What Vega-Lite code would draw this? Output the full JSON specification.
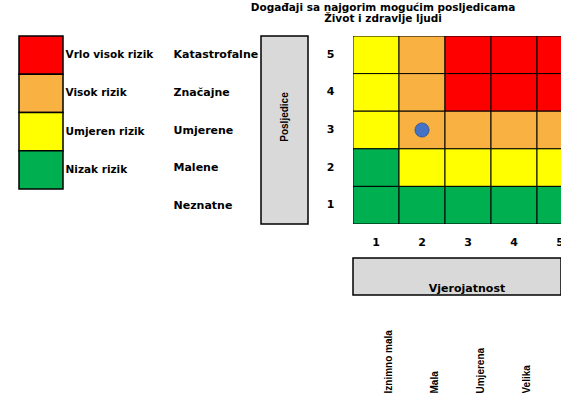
{
  "$schema": "https://vega.github.io/schema/vega-lite/v6.json",
  "padding": {"left": 18, "top": 2, "right": 0, "bottom": 0},
  "background": "white",
  "title": {
    "text": ["Događaji sa najgorim mogućim posljedicama", "Život i zdravlje ljudi"],
    "anchor": "start", "align": "center", "dx": 364, "frame": "group",
    "font": "DejaVu Sans", "fontSize": 10.5, "fontWeight": "bold", "lineHeight": 11, "color": "black", "offset": 11
  },
  "datasets": {
    "legenda": [
      {"rizik": "Vrlo visok rizik"}, {"rizik": "Visok rizik"}, {"rizik": "Umjeren rizik"}, {"rizik": "Nizak rizik"}
    ],
    "okvir_p": [{"naziv": "Posljedice"}],
    "okvir_v": [{"naziv": "Vjerojatnost"}],
    "posljedice": [
      {"naziv": "Katastrofalne"}, {"naziv": "Značajne"}, {"naziv": "Umjerene"}, {"naziv": "Malene"}, {"naziv": "Neznatne"}
    ],
    "vjerojatnost": [
      {"naziv": "Iznimno mala"}, {"naziv": "Mala"}, {"naziv": "Umjerena"}, {"naziv": "Velika"}
    ],
    "oznaka": [{"v": 2, "p": 3}],
    "matrica": [
      {"v": 1, "p": 5, "rizik": "Umjeren rizik"}, {"v": 2, "p": 5, "rizik": "Visok rizik"}, {"v": 3, "p": 5, "rizik": "Vrlo visok rizik"}, {"v": 4, "p": 5, "rizik": "Vrlo visok rizik"}, {"v": 5, "p": 5, "rizik": "Vrlo visok rizik"},
      {"v": 1, "p": 4, "rizik": "Umjeren rizik"}, {"v": 2, "p": 4, "rizik": "Visok rizik"}, {"v": 3, "p": 4, "rizik": "Vrlo visok rizik"}, {"v": 4, "p": 4, "rizik": "Vrlo visok rizik"}, {"v": 5, "p": 4, "rizik": "Vrlo visok rizik"},
      {"v": 1, "p": 3, "rizik": "Umjeren rizik"}, {"v": 2, "p": 3, "rizik": "Visok rizik"}, {"v": 3, "p": 3, "rizik": "Visok rizik"}, {"v": 4, "p": 3, "rizik": "Visok rizik"}, {"v": 5, "p": 3, "rizik": "Visok rizik"},
      {"v": 1, "p": 2, "rizik": "Nizak rizik"}, {"v": 2, "p": 2, "rizik": "Umjeren rizik"}, {"v": 3, "p": 2, "rizik": "Umjeren rizik"}, {"v": 4, "p": 2, "rizik": "Umjeren rizik"}, {"v": 5, "p": 2, "rizik": "Umjeren rizik"},
      {"v": 1, "p": 1, "rizik": "Nizak rizik"}, {"v": 2, "p": 1, "rizik": "Nizak rizik"}, {"v": 3, "p": 1, "rizik": "Nizak rizik"}, {"v": 4, "p": 1, "rizik": "Nizak rizik"}, {"v": 5, "p": 1, "rizik": "Nizak rizik"}
    ]
  },
  "config": {
    "view": {"stroke": null},
    "axis": {"ticks": false, "domain": false, "grid": false, "labelColor": "black", "labelFont": "DejaVu Sans", "labelFontWeight": "bold", "labelFontSize": 11, "title": null}
  },
  "spacing": 17,
  "hconcat": [
    {
      "width": 44, "height": 153,
      "data": {"name": "legenda"},
      "mark": {"type": "rect", "stroke": "black", "strokeWidth": 1.5},
      "encoding": {
        "y": {"field": "rizik", "type": "nominal", "sort": ["Vrlo visok rizik", "Visok rizik", "Umjeren rizik", "Nizak rizik"],
              "scale": {"paddingInner": 0, "paddingOuter": 0},
              "axis": {"orient": "right", "labelPadding": 2, "labelAlign": "left", "labelFontSize": 10.5, "minExtent": 93}},
        "x": {"value": 0}, "x2": {"value": "width"},
        "color": {"field": "rizik", "type": "nominal",
                  "scale": {"domain": ["Vrlo visok rizik", "Visok rizik", "Umjeren rizik", "Nizak rizik"], "range": ["#FF0000", "#F9B142", "#FFFF00", "#00B050"]},
                  "legend": null}
      }
    },
    {
      "width": 47, "height": 188,
      "layer": [
        {
          "data": {"name": "okvir_p"},
          "mark": {"type": "rect", "fill": "#D9D9D9", "stroke": "black", "strokeWidth": 1.5},
          "encoding": {"x": {"value": 0}, "x2": {"value": "width"}, "y": {"value": 0}, "y2": {"value": "height"}}
        },
        {
          "data": {"name": "okvir_p"},
          "mark": {"type": "text", "angle": 270, "font": "Liberation Sans", "fontSize": 10, "fontWeight": "bold", "color": "black", "dx": 13},
          "encoding": {"text": {"field": "naziv"}}
        },
        {
          "data": {"name": "posljedice"},
          "mark": {"type": "text", "opacity": 0},
          "encoding": {
            "y": {"field": "naziv", "type": "nominal", "sort": ["Katastrofalne", "Značajne", "Umjerene", "Malene", "Neznatne"],
                  "scale": {"paddingInner": 0, "paddingOuter": 0},
                  "axis": {"orient": "left", "labelAlign": "left", "labelPadding": 88}}
          }
        }
      ]
    },
    {
      "spacing": 10,
      "vconcat": [
        {
          "width": 208, "height": 188,
          "layer": [
            {
              "data": {"name": "matrica"},
              "mark": {"type": "rect", "stroke": "black", "strokeWidth": 1, "clip": true},
              "encoding": {
                "x": {"field": "v", "type": "ordinal", "scale": {"range": [0, 230], "paddingInner": 0, "paddingOuter": 0},
                      "axis": {"labelAngle": 0, "labelPadding": 12, "minExtent": 23}},
                "y": {"field": "p", "type": "ordinal", "sort": "descending", "scale": {"paddingInner": 0, "paddingOuter": 0},
                      "axis": {"labelAlign": "center", "labelPadding": 23, "minExtent": 27}},
                "color": {"field": "rizik", "type": "nominal",
                          "scale": {"domain": ["Vrlo visok rizik", "Visok rizik", "Umjeren rizik", "Nizak rizik"], "range": ["#FF0000", "#F9B142", "#FFFF00", "#00B050"]},
                          "legend": null}
              }
            },
            {
              "data": {"name": "oznaka"},
              "mark": {"type": "point", "filled": true, "size": 200, "fill": "#4472C4", "stroke": "#2F528F", "strokeWidth": 0.8, "opacity": 1},
              "encoding": {
                "x": {"field": "v", "type": "ordinal"},
                "y": {"field": "p", "type": "ordinal", "sort": "descending"}
              }
            }
          ]
        },
        {
          "width": 208, "height": 37,
          "layer": [
            {
              "data": {"name": "okvir_v"},
              "mark": {"type": "rect", "fill": "#D9D9D9", "stroke": "black", "strokeWidth": 1.5},
              "encoding": {"x": {"value": 0}, "x2": {"value": "width"}, "y": {"value": 0}, "y2": {"value": "height"}}
            },
            {
              "data": {"name": "okvir_v"},
              "mark": {"type": "text", "font": "DejaVu Sans", "fontSize": 11, "fontWeight": "bold", "color": "black", "baseline": "bottom", "dx": 10, "dy": -1},
              "encoding": {"text": {"field": "naziv"}, "y": {"value": "height"}}
            },
            {
              "data": {"name": "vjerojatnost"},
              "mark": {"type": "text", "opacity": 0},
              "encoding": {
                "x": {"field": "naziv", "type": "nominal", "sort": ["Iznimno mala", "Mala", "Umjerena", "Velika"],
                      "scale": {"range": [0, 184], "paddingInner": 0, "paddingOuter": 0},
                      "axis": {"orient": "bottom", "labelAngle": 270, "labelAlign": "left", "labelBaseline": "middle", "labelPadding": 98, "labelOffset": 12, "labelFont": "Liberation Sans", "labelFontSize": 10}}
              }
            }
          ]
        }
      ]
    }
  ]
}
